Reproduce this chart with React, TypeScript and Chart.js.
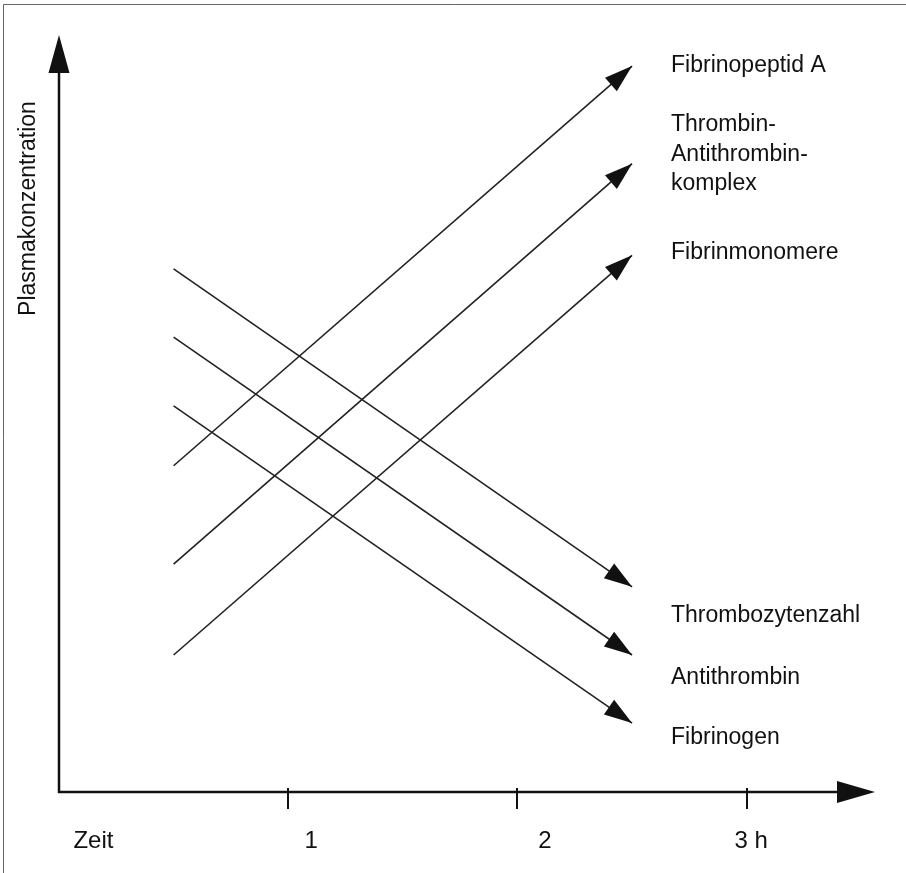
import { useEffect, useRef } from "react";
import { Chart, registerables } from "chart.js";

Chart.register(...registerables);

// ---- data ----
const timeHours = [0.5, 2.5];
const seriesNames = [
  "Fibrinopeptid A",
  "Thrombin-Antithrombin-komplex",
  "Fibrinmonomere",
  "Thrombozytenzahl",
  "Antithrombin",
  "Fibrinogen",
];
const fibrinopeptidA = [43.1, 95.9];
const thrombinAntithrombinKomplex = [30.1, 83.0];
const fibrinmonomere = [18.1, 70.9];
const thrombozytenzahl = [69.1, 27.1];
const antithrombin = [60.1, 18.1];
const fibrinogen = [51.0, 9.1];
const seriesValues = [
  fibrinopeptidA,
  thrombinAntithrombinKomplex,
  fibrinmonomere,
  thrombozytenzahl,
  antithrombin,
  fibrinogen,
];
const seriesLabelLines = [
  ["Fibrinopeptid A"],
  ["Thrombin-", "Antithrombin-", "komplex"],
  ["Fibrinmonomere"],
  ["Thrombozytenzahl"],
  ["Antithrombin"],
  ["Fibrinogen"],
];
const seriesLabelBaselines = [95.1, 87.3, 70.4, 22.5, 14.3, 6.3];
const xTickValues = [1, 2, 3];
const xLabelPositions = [0.15, 1.1, 2.12, 3.02];
const xLabels = ["Zeit", "1", "2", "3 h"];
const yTitle = "Plasmakonzentration";
const xMax = 3.56;
const yMax = 100;

// ---- styling ----
const FONT = '"Liberation Sans", Arial, Helvetica, sans-serif';
const INK = "#111111";
const LINE = "#222222";

function arrowHead(
  ctx: CanvasRenderingContext2D,
  tipX: number,
  tipY: number,
  fromX: number,
  fromY: number,
  len: number,
  half: number
) {
  const dx = tipX - fromX;
  const dy = tipY - fromY;
  const d = Math.hypot(dx, dy) || 1;
  const ux = dx / d;
  const uy = dy / d;
  const bx = tipX - ux * len;
  const by = tipY - uy * len;
  ctx.beginPath();
  ctx.moveTo(tipX, tipY);
  ctx.lineTo(bx - uy * half, by + ux * half);
  ctx.lineTo(bx + uy * half, by - ux * half);
  ctx.closePath();
  ctx.fill();
}

const schematicPlugin = {
  id: "schematic",
  beforeDraw(chart: any) {
    const { ctx, width, height } = chart;
    ctx.save();
    ctx.fillStyle = "#ffffff";
    ctx.fillRect(0, 0, width, height);
    ctx.strokeStyle = "#666666";
    ctx.lineWidth = 1;
    ctx.beginPath();
    ctx.moveTo(3.5, height);
    ctx.lineTo(3.5, 4.5);
    ctx.lineTo(width, 4.5);
    ctx.stroke();
    ctx.restore();
  },
  afterDatasetsDraw(chart: any) {
    const { ctx, chartArea, scales } = chart;
    const { left, right, top, bottom } = chartArea;
    const x = scales.x;
    const y = scales.y;
    ctx.save();
    ctx.fillStyle = INK;
    ctx.strokeStyle = INK;

    // axes with arrowheads
    ctx.lineWidth = 2.5;
    ctx.beginPath();
    ctx.moveTo(left, bottom + 1);
    ctx.lineTo(left, top + 30);
    ctx.stroke();
    ctx.beginPath();
    ctx.moveTo(left - 1, bottom);
    ctx.lineTo(right - 30, bottom);
    ctx.stroke();
    arrowHead(ctx, left, top, left, bottom, 38, 10.5);
    arrowHead(ctx, right, bottom, left, bottom, 38, 11);

    // tick marks
    ctx.lineWidth = 2;
    xTickValues.forEach((v) => {
      const px = Math.round(x.getPixelForValue(v));
      ctx.beginPath();
      ctx.moveTo(px, bottom - 4);
      ctx.lineTo(px, bottom + 17);
      ctx.stroke();
    });

    // arrowheads on the series
    ctx.fillStyle = INK;
    chart.data.datasets.forEach((_ds: any, i: number) => {
      const pts = chart.getDatasetMeta(i).data;
      if (pts.length < 2) return;
      const a = pts[pts.length - 2];
      const b = pts[pts.length - 1];
      arrowHead(ctx, b.x, b.y, a.x, a.y, 28, 9);
    });

    // series labels
    ctx.font = `23px ${FONT}`;
    ctx.textAlign = "left";
    ctx.textBaseline = "alphabetic";
    chart.data.datasets.forEach((_ds: any, i: number) => {
      const pts = chart.getDatasetMeta(i).data;
      const end = pts[pts.length - 1];
      const lx = end.x + 39;
      const by = y.getPixelForValue(seriesLabelBaselines[i]);
      seriesLabelLines[i].forEach((line, k) => {
        ctx.fillText(line, lx, by + k * 29.5);
      });
    });

    // y-axis title
    ctx.translate(left - 24, top + 173.5);
    ctx.rotate(-Math.PI / 2);
    ctx.textAlign = "center";
    ctx.fillText(yTitle, 0, 0);
    ctx.restore();
  },
};

export default function App() {
  const canvasRef = useRef<HTMLCanvasElement | null>(null);

  useEffect(() => {
    document.body.style.margin = "0";
    const canvas = canvasRef.current;
    if (!canvas) return;
    const chart = new Chart(canvas, {
      type: "scatter",
      data: {
        datasets: seriesValues.map((vals, i) => ({
          label: seriesNames[i],
          data: vals.map((v, k) => ({ x: timeHours[k], y: v })),
          showLine: true,
          borderColor: LINE,
          backgroundColor: LINE,
          borderWidth: 1.6,
          pointRadius: 0,
          pointHoverRadius: 0,
        })),
      },
      options: {
        animation: false,
        responsive: false,
        events: [],
        layout: { padding: { top: 35, right: 31, bottom: 0, left: 0 } },
        plugins: {
          legend: { display: false },
          tooltip: { enabled: false },
          title: { display: false },
        },
        scales: {
          x: {
            type: "linear",
            min: 0,
            max: xMax,
            grid: { display: false, drawTicks: false },
            border: { display: false },
            afterBuildTicks: (axis: any) => {
              axis.ticks = xLabelPositions.map((value) => ({ value }));
            },
            afterFit: (axis: any) => {
              axis.height = 81;
            },
            ticks: {
              autoSkip: false,
              maxRotation: 0,
              minRotation: 0,
              padding: 35,
              color: INK,
              font: { family: FONT, size: 24 },
              callback: (_v: any, index: number) => xLabels[index],
            },
          },
          y: {
            type: "linear",
            min: 0,
            max: yMax,
            grid: { display: false, drawTicks: false },
            border: { display: false },
            ticks: { display: false },
            afterFit: (axis: any) => {
              axis.width = 59;
            },
          },
        },
      },
      plugins: [schematicPlugin],
    });
    return () => chart.destroy();
  }, []);

  return (
    <canvas
      ref={canvasRef}
      width={906}
      height={873}
      style={{ display: "block", width: "906px", height: "873px" }}
    />
  );
}
